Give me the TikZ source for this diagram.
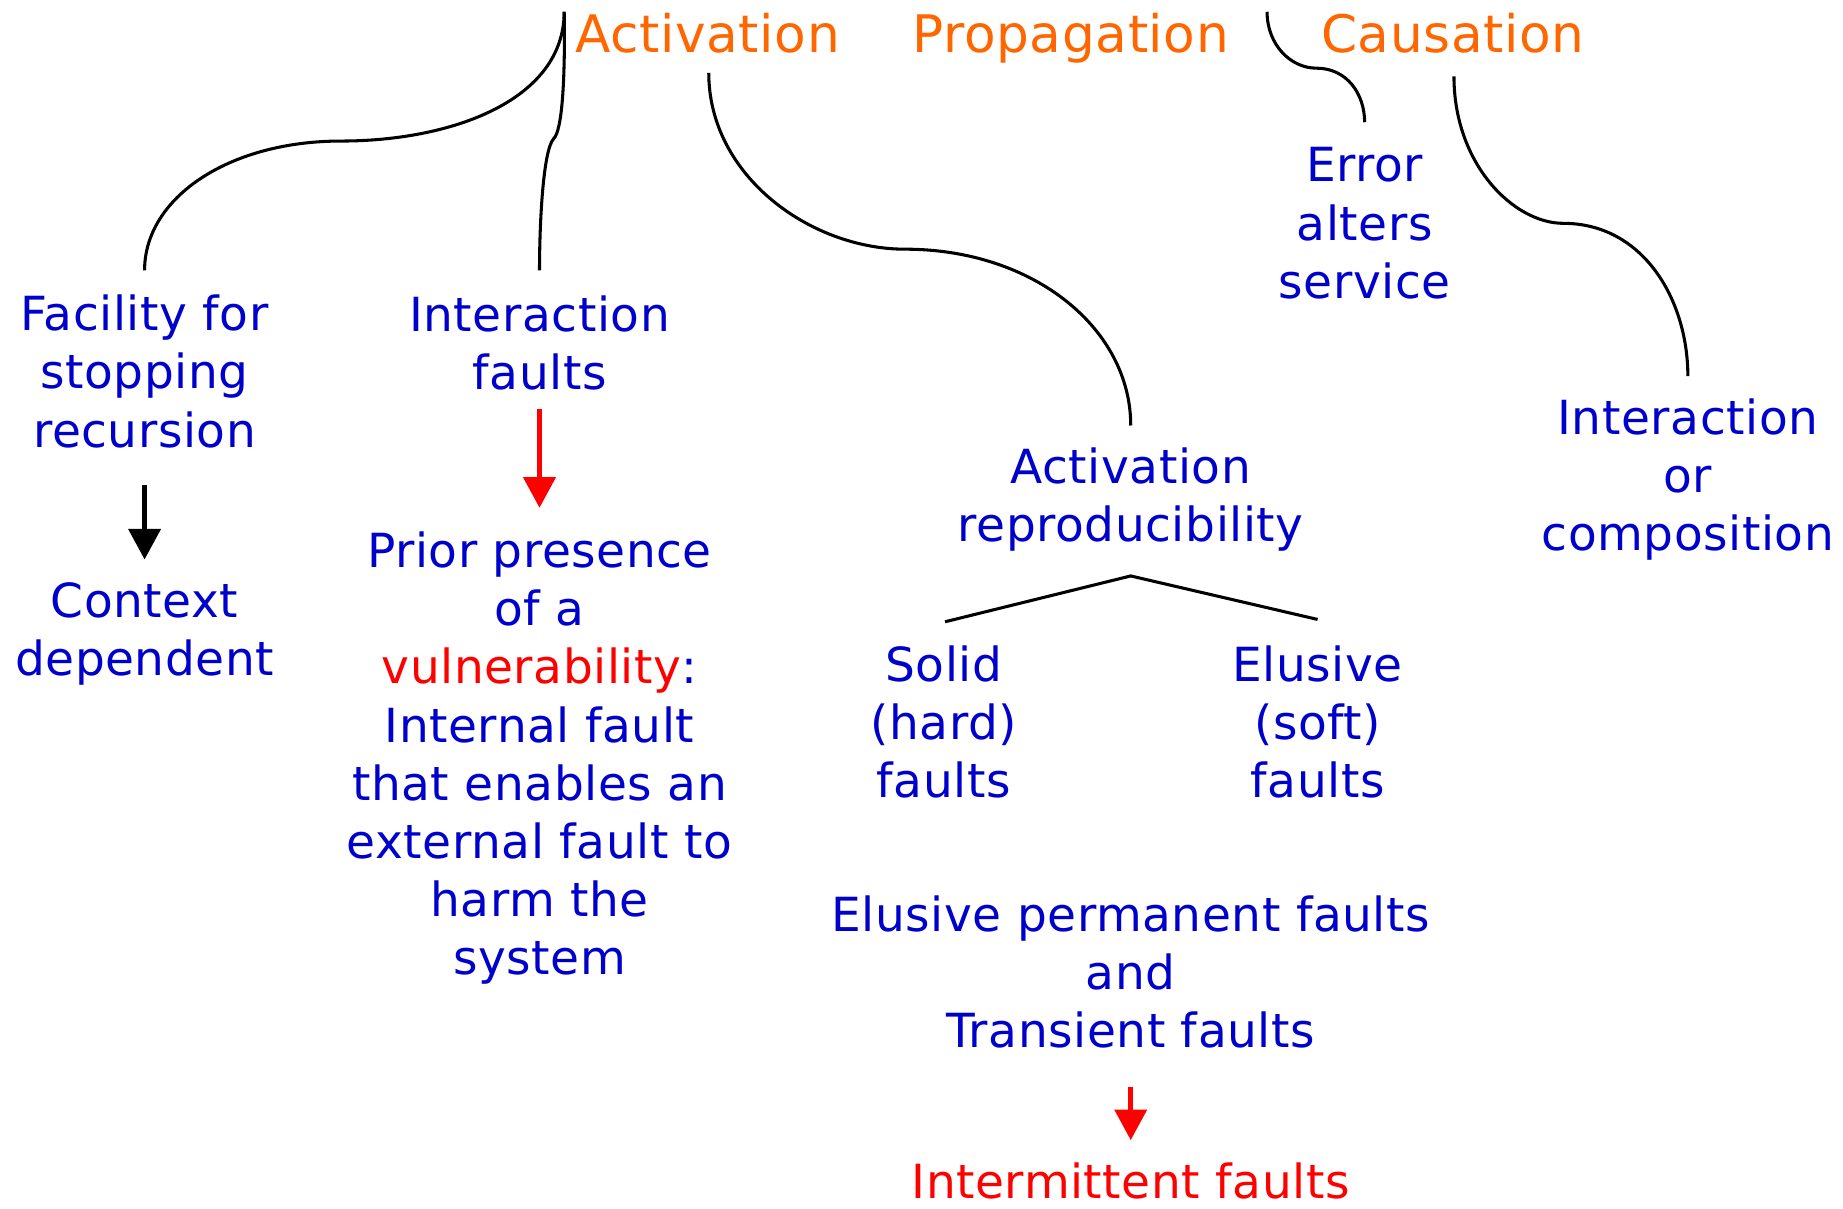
\documentclass[tikz,border=0pt]{standalone}
\usepackage{fontspec}
\setmainfont[LetterSpace=1.2]{DejaVu Sans}
\usetikzlibrary{arrows.meta}
\definecolor{txtblue}{RGB}{0,0,204}
\definecolor{headorange}{RGB}{255,102,0}
\definecolor{hotred}{RGB}{255,0,0}
\begin{document}
\begin{tikzpicture}[x=1pt,y=-1pt,
  head/.style={text=headorange,inner sep=0pt,anchor=base,font=\fontsize{44}{54}\selectfont},
  item/.style={text=txtblue,inner sep=0pt,align=center,font=\fontsize{40}{49.5}\selectfont},
  branch/.style={line width=2.6pt,black},
  pointer/.style={line width=4pt,-{Triangle[length=26pt,width=27pt]}}]
\useasboundingbox (0,0) rectangle (1568,1028);

% category headings
\node[head] (act)  at (602,45) {Activation};
\node[head] (prop) at (911,45) {Propagation};
\node[head] (caus) at (1236,45) {Causation};

% descriptions
\node[item] (fac)    at (123,316) {Facility for\\stopping\\recursion};
\node[item] (ctx)    at (123,539) {Context\\dependent};
\node[item] (inter)  at (459,292) {Interaction\\faults};
\node[item] (prior)  at (459,645) {Prior presence\\of a\\{\color{hotred}vulnerability}:\\Internal fault\\that enables an\\external fault to\\harm the\\system};
\node[item] (actrep) at (962,425) {Activation\\reproducibility};
\node[item] (solid)  at (803,614) {Solid\\(hard)\\faults};
\node[item] (elus)   at (1121,614) {Elusive\\(soft)\\faults};
\node[item] (eperm)  at (962,827) {Elusive permanent faults\\and\\Transient faults};
\node[item,text=hotred] (interm) at (962,1005) {Intermittent faults};
\node[item] (err)    at (1161,190) {Error\\alters\\service};
\node[item] (icomp)  at (1436,408) {Interaction\\or\\composition};

% connector end points
\coordinate (actA) at (480,10);
\coordinate (actB) at (603,62);
\coordinate (propA) at (1078,10);
\coordinate (causA) at (1237,65);
\coordinate (facT) at (123,230);
\coordinate (interT) at (459,230);
\coordinate (actrepT) at (962,362);
\coordinate (errT) at (1161,104);
\coordinate (icompT) at (1436,320);
\coordinate (fork) at (962,490);
\coordinate (solidT) at (804,529);
\coordinate (elusT) at (1121,527);

% brace-like branches
\draw[branch] (actA) .. controls (480,85) and (385,120) .. (290,120)
                    .. controls (195,120) and (123,168) .. (facT);
\draw[branch] (actA) .. controls (481,70) and (478,112) .. (471,118)
                    .. controls (462,128) and (459,190) .. (interT);
\draw[branch] (actB) .. controls (603,150) and (690,212) .. (770,212)
                    .. controls (880,212) and (962,280) .. (actrepT);
\draw[branch] (propA) .. controls (1078,38) and (1098,58) .. (1120,58)
                     .. controls (1146,58) and (1161,80) .. (errT);
\draw[branch] (causA) .. controls (1237,140) and (1288,190) .. (1330,190)
                     .. controls (1398,190) and (1436,255) .. (icompT);
\draw[branch] (solidT) -- (fork) -- (elusT);

% arrows
\coordinate (facB) at (123,413);
\coordinate (ctxT) at (123,476);
\coordinate (interB) at (459,348);
\coordinate (priorT) at (459,432);
\coordinate (epermB) at (962,925);
\coordinate (intermT) at (962,970);
\draw[pointer,black] (facB) -- (ctxT);
\draw[pointer,hotred] (interB) -- (priorT);
\draw[pointer,hotred] (epermB) -- (intermT);
\end{tikzpicture}
\end{document}
